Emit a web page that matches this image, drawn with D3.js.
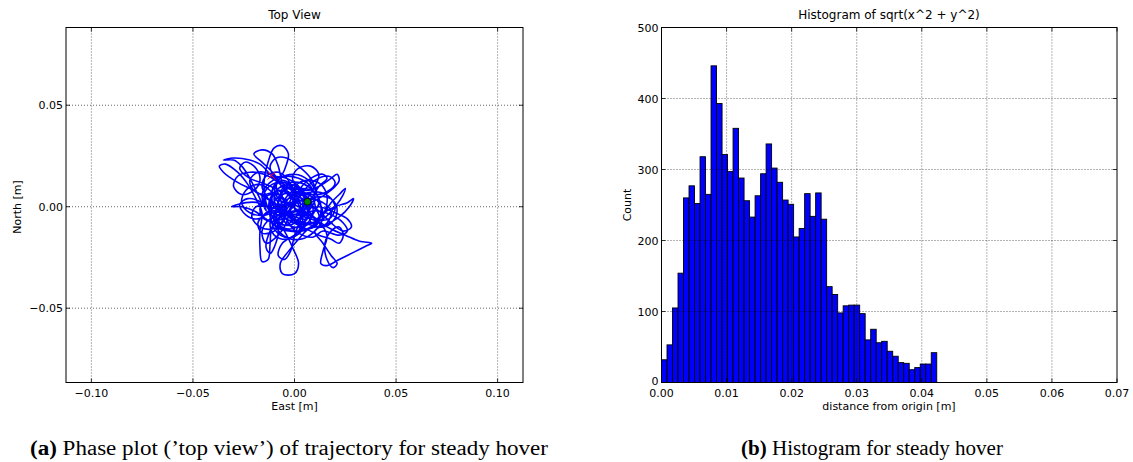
<!DOCTYPE html>
<html>
<head>
<meta charset="utf-8">
<script src="https://cdn.jsdelivr.net/npm/d3@7"></script>
<style>
  body { margin: 0; background: #fff; }
  text { font-family: "DejaVu Sans", sans-serif; fill: #000; }
  .cap { font-family: "Liberation Serif", serif; }
</style>
</head>
<body>
<svg id="fig" width="1133" height="462"></svg>
<script>
// trajectory, [east, north] in mm
const trackMm = [
  [-11,15],[-4,14],[3,9],[7,1],[5,-7],[-2,-11],[-9,-8],[-12,0],[-9,8],[-2,11],[6,8],
  [12,10],[18,14],[21,16],[22,13],[20,10],[15,6],[8,2],[0,-2],[-7,-3],[-12,-1],
  [-18,2],[-24,2],[-31,0],[-26,0],[-20,-2],[-14,-6],[-8,-10],[0,-12],[8,-10],[13,-4],
  [20,0],[26,2],[29,4],[27,0],[22,-5],[15,-9],[7,-11],
  [2,-16],[-3,-22],[-7,-28],[-6,-33],[0,-33],[2,-28],[-1,-20],[-5,-12],[-10,-6],
  [-14,2],[-15,12],[-13,22],[-10,29],[-6,30],[-3,26],[-5,18],[-9,10],[-5,3],[2,0],
  [10,-6],[18,-11],[25,-14],[32,-17],[38,-18],[36,-19],[30,-22],[22,-26],[16,-29],[13,-28],[14,-22],[16,-14],[12,-8],[5,-5],
  [-3,-3],[-12,3],[-20,8],[-28,12],[-35,17],[-37,20],[-34,21],[-28,17],[-23,11],[-19,4],[-16,-3],
  [-17,-12],[-17,-20],[-16,-27],[-13,-26],[-12,-18],[-11,-10],[-6,-6],[0,-7],
  [6,-3],[10,3],[8,10],[2,14],[-5,15],[-12,12],[-16,6],[-14,-2],
  [-18,6],[-22,14],[-26,20],[-30,23],[-35,23],[-30,24],[-22,23],[-17,21],[-12,16],[-6,10],
  [0,4],[4,-4],[2,-12],[-4,-16],[-10,-14],[-12,-8],[-8,-2],[0,2],[8,4],[14,2],[18,-2],[16,-8],[10,-12],
  [14,-18],[18,-24],[21,-28],[19,-30],[16,-26],[15,-18],[18,-12],[22,-10],[24,-14],[22,-18],[18,-16],
  [12,-14],[4,-10],[-4,-6],[-10,0],[-11,8],[-7,14],[0,16],[7,13],[11,7],
  [8,14],[2,20],[-4,24],[-9,24],[-12,20],[-10,15],[-4,10],[2,4],
  [-6,0],[-14,-4],[-22,-3],[-26,2],[-24,8],[-18,11],[-12,8],[-8,2],[-4,-4],
  [2,-8],[9,-8],[14,-4],[18,2],[22,6],[25,9],[24,6],[20,0],[14,-6],[6,-9],
  [0,-14],[-6,-18],[-8,-24],[-5,-26],[-2,-22],[0,-14],[3,-6],[4,2],[0,8],[-6,10],
  [-10,16],[-16,22],[-20,26],[-16,28],[-11,26],[-8,20],[-6,12],[-2,6],
  [6,6],[12,2],[14,-5],[10,-12],[3,-16],[-4,-15],[-9,-10],[-10,-4],[-6,2],[1,5],[7,3],
  [12,10],[16,14],[14,16],[8,14],[2,8],[-2,0],[-4,-8],
  [-8,-14],[-14,-18],[-16,-12],[-12,-6],[-6,-4],[2,-4],[10,-2],[18,-4],[24,-8],[26,-12],[22,-14],[14,-12],
  [9,-15],[2,-13],[-3,-8],[-5,-1],[-2,5],[4,7],[9,4],[10,-2],[6,-6],[0,-5],[-6,-2],[-10,3],[-8,9],[-2,11],[3,8],[5,2],[2,-3],
  [-4,-4],[-9,-1],[-13,4],[-16,10],[-14,15],[-8,17],[-3,13],[-1,6],[-4,1],[-9,0],[-14,-3],[-18,-8],[-16,-13],[-10,-12],[-6,-7],
  [-3,0],[2,3],[8,1],[12,-4],[11,-9],[6,-11],[1,-8],[-2,-2],[1,4],[7,7],[13,7],[18,4],[20,-1],[17,-6],[11,-6],[7,-2],[5,4],
  [1,9],[-5,8],[-8,3],[-7,-4],[-3,-9],[3,-10],[8,-6],[9,0],[6,5],[0,7],[-6,6],[-11,1],[-12,-5],[-9,-10],[-3,-12],[4,-12],
  [10,-9],[13,-3],[12,4],[8,9],[2,12],[-4,11],[-7,6],[-5,-1],[0,-4],[5,-1],[5,5],[0,8],[-7,12],[-12,16],[-18,17],
  [-22,13],[-20,8],[-15,6],[-10,7],[-6,4],[-4,-2],[-6,-8],[-11,-11],[-17,-10],[-21,-5],[-19,0],[-13,0],[-7,-2],[-1,-6],
  [5,-8],[11,-7],[15,-2],[16,5],[13,11],[7,13],[1,11],[-2,5],
  [-8,12],[-15,16],[-22,17],[-28,15],[-30,10],[-26,6],[-20,8],[-17,13],[-19,19],[-24,22],[-27,19],[-22,14],[-14,11],[-6,6],
  [-12,-2],[-18,-6],[-24,-4],[-27,1],[-23,4],[-16,2],[-10,-4],[-8,-12],[-10,-20],[-12,-23],[-14,-20],[-12,-12],[-8,-6],
  [2,-2],[12,0],[20,-3],[26,-6],[28,-10],[24,-12],[18,-8],[12,-2],[6,2],
  [10,10],[12,16],[8,20],[2,19],[-1,14],[3,8],[10,6],[17,8],[20,12],[17,15],[10,13],[4,7],
  [0,-1],[4,-4],[9,-3],[12,2],[10,7],[4,9],[-2,7],[-5,2],[-3,-4],[2,-7],[8,-9],[14,-10],[19,-7],[21,-2],[19,3],[14,5],[9,4],
  [6,0],[3,-5],[-2,-9],[-8,-8],[-12,-3],[-12,4],[-8,8],[-3,6],[0,1],
  [-4,-3],[-10,-7],[-15,-6],[-17,-1],[-14,5],[-8,6],[-4,2],[-6,-4],[-11,-8],[-7,-14],[-1,-15],[4,-11],[3,-4],[-2,1],
  [-7,3],[-10,9],[-6,13],[-1,10],[0,3],[-3,-2],[-8,-4],[-13,-1],[-15,6],[-11,11],[-5,12],[1,6],[3,0],[0,-6],[-5,-9],
  [-9,-5],[-7,0],[-2,2],[4,1],[7,-4],[4,-8],[-1,-6],
  [8,-8],[4,0],[6,3],[6.4,2.5]
]
const startMm = [-11.3, 15.3]
const endMm = [6.4, 2.5]

const topTicksX = [-0.10, -0.05, 0.00, 0.05, 0.10]
const topTicksY = [-0.05, 0.00, 0.05]

// histogram of sqrt(x^2 + y^2), 50 bins
const counts = [32,53,105,154,260,277,252,318,265,446,393,321,297,358,288,256,233,263,294,336,
  302,282,257,251,205,217,266,234,267,230,135,124,98,108,109,109,97,60,75,56,
  58,44,37,28,27,18,21,26,26,42]
const binLo = 0.0, binHi = 0.0423
const histTicksX = [0.00, 0.01, 0.02, 0.03, 0.04, 0.05, 0.06, 0.07]
const histTicksY = [0, 100, 200, 300, 400, 500]

const toM = ([e, n]) => [e / 1000, n / 1000]
const track = trackMm.map(toM)
const startPt = toM(startMm), endPt = toM(endMm)

const svg = d3.select("#fig")

const drawFrame = (g, x, y, ticksX, ticksY, fmtX, fmtY) => {
  const [x0, x1] = x.range(), [y0, y1] = y.range()
  const grid = g.append("g")
    .attr("stroke", "#000").attr("stroke-width", 0.6).attr("stroke-dasharray", "1,2")
  grid.selectAll(".gx").data(ticksX.filter(d => x(d) > x0 + 1 && x(d) < x1 - 1)).enter()
    .append("line").attr("x1", d => x(d)).attr("x2", d => x(d)).attr("y1", y0).attr("y2", y1)
  grid.selectAll(".gy").data(ticksY.filter(d => y(d) < y0 - 1 && y(d) > y1 + 1)).enter()
    .append("line").attr("y1", d => y(d)).attr("y2", d => y(d)).attr("x1", x0).attr("x2", x1)

  const tk = g.append("g").attr("stroke", "#000").attr("stroke-width", 0.8)
  ticksX.forEach(d => {
    tk.append("line").attr("x1", x(d)).attr("x2", x(d)).attr("y1", y0).attr("y2", y0 - 4)
    tk.append("line").attr("x1", x(d)).attr("x2", x(d)).attr("y1", y1).attr("y2", y1 + 4)
  })
  ticksY.forEach(d => {
    tk.append("line").attr("y1", y(d)).attr("y2", y(d)).attr("x1", x0).attr("x2", x0 + 4)
    tk.append("line").attr("y1", y(d)).attr("y2", y(d)).attr("x1", x1).attr("x2", x1 - 4)
  })

  g.append("rect")
    .attr("x", x0).attr("y", y1).attr("width", x1 - x0).attr("height", y0 - y1)
    .attr("fill", "none").attr("stroke", "#000").attr("stroke-width", 1)

  g.selectAll(".lx").data(ticksX).enter().append("text")
    .attr("x", d => x(d)).attr("y", y0 + 14)
    .attr("text-anchor", "middle").attr("font-size", 11)
    .text(fmtX)
  g.selectAll(".ly").data(ticksY).enter().append("text")
    .attr("x", x0 - 3).attr("y", d => y(d) + (d === 0 && fmtY(d) === "0" ? 2 : 4))
    .attr("text-anchor", "end").attr("font-size", 11)
    .text(fmtY)
}

const label = (g, x, y, txt, rot) => {
  g.append("text")
    .attr("transform", `translate(${x},${y})` + (rot ? " rotate(-90)" : ""))
    .attr("text-anchor", "middle").attr("font-size", 11)
    .text(txt)
}

// left: top view
const xTop = d3.scaleLinear().domain([-0.1125, 0.1125]).range([66, 523])
const yTop = d3.scaleLinear().domain([-0.0866, 0.0883]).range([382.5, 27.5])
const gTop = svg.append("g")

gTop.append("path")
  .datum(track)
  .attr("d", d3.line().x(d => xTop(d[0])).y(d => yTop(d[1])).curve(d3.curveCatmullRom.alpha(0.5)))
  .attr("fill", "none").attr("stroke", "#0000ff").attr("stroke-width", 1.6)
  .attr("stroke-linejoin", "round")

gTop.append("path")
  .attr("d", d3.symbol(d3.symbolX, 40)())
  .attr("transform", `translate(${xTop(startPt[0])},${yTop(startPt[1])})`)
  .attr("fill", "none").attr("stroke", "#ff0000").attr("stroke-width", 1)

gTop.append("circle")
  .attr("cx", xTop(endPt[0])).attr("cy", yTop(endPt[1])).attr("r", 3.5)
  .attr("fill", "#008000").attr("stroke", "#000").attr("stroke-width", 0.8)

drawFrame(gTop, xTop, yTop, topTicksX, topTicksY, d3.format(".2f"), d3.format(".2f"))
gTop.append("text").attr("x", 294.5).attr("y", 19).attr("text-anchor", "middle")
  .attr("font-size", 12).text("Top View")
label(gTop, 294.5, 410, "East [m]")
label(gTop, 21, 207, "North [m]", true)

// right: histogram
const xHist = d3.scaleLinear().domain([0, 0.07]).range([661.5, 1117])
const yHist = d3.scaleLinear().domain([0, 500]).range([382.5, 27.5])
const edge = d3.scaleLinear().domain([0, counts.length]).range([binLo, binHi])
const gHist = svg.append("g")

gHist.selectAll("rect.bar")
  .data(counts)
  .enter()
  .append("rect")
  .attr("class", "bar")
  .attr("x", (d, i) => xHist(edge(i)))
  .attr("width", (d, i) => xHist(edge(i + 1)) - xHist(edge(i)))
  .attr("y", d => yHist(d))
  .attr("height", d => yHist(0) - yHist(d))
  .attr("fill", "#0000ff").attr("stroke", "#000").attr("stroke-width", 0.9)

drawFrame(gHist, xHist, yHist, histTicksX, histTicksY, d3.format(".2f"), d3.format("d"))
gHist.append("text").attr("x", 889).attr("y", 19).attr("text-anchor", "middle")
  .attr("font-size", 12).text("Histogram of sqrt(x^2 + y^2)")
label(gHist, 889, 410, "distance from origin [m]")
label(gHist, 631, 205, "Count", true)

// captions
const cap = (x, w, tag, txt) => {
  const t = svg.append("text").attr("class", "cap")
    .attr("x", x).attr("y", 455).attr("text-anchor", "middle").attr("font-size", 20)
    .attr("textLength", w).attr("lengthAdjust", "spacingAndGlyphs")
  t.append("tspan").attr("font-weight", "bold").text(tag)
  t.append("tspan").text(" " + txt)
}
cap(289, 518, "(a)", "Phase plot (’top view’) of trajectory for steady hover")
cap(872, 262, "(b)", "Histogram for steady hover")
</script>
</body>
</html>
